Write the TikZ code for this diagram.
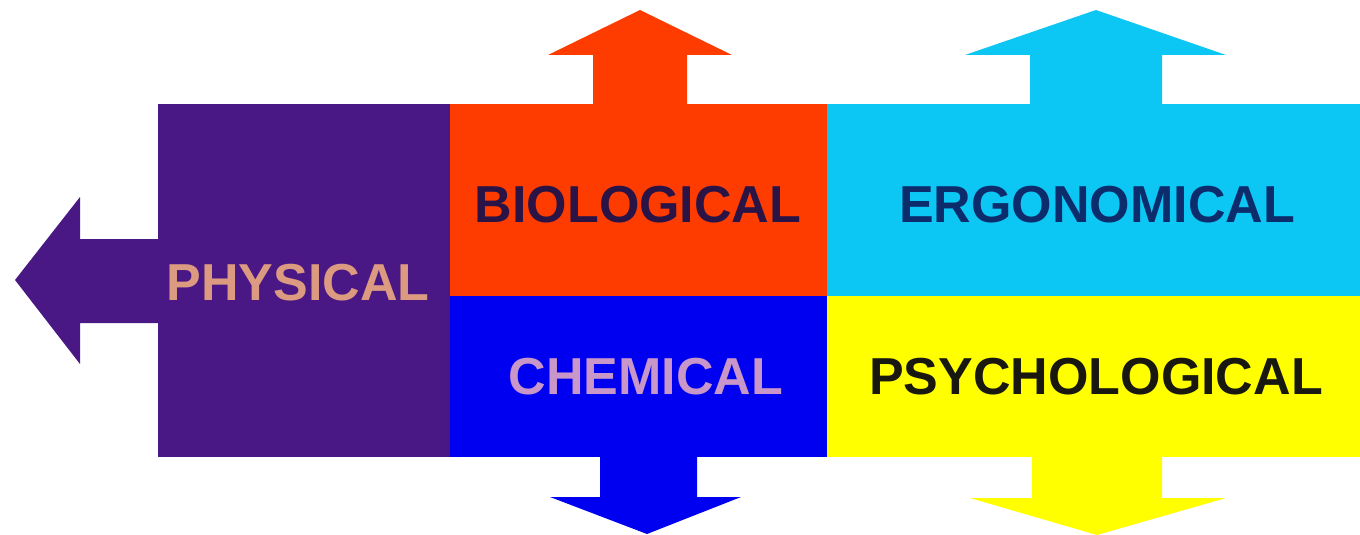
\documentclass[tikz,border=0pt]{standalone}
\usepackage{fontspec}
\setmainfont{Liberation Sans}

\definecolor{physpurple}{HTML}{4A1884}
\definecolor{bioorange}{HTML}{FF3C00}
\definecolor{ergocyan}{HTML}{0CC6F4}
\definecolor{chemblue}{HTML}{0000F0}
\definecolor{psyyellow}{HTML}{FFFF00}
\definecolor{phystext}{HTML}{DC9A80}
\definecolor{biotext}{HTML}{2A1446}
\definecolor{ergotext}{HTML}{0C2C6C}
\definecolor{chemtext}{HTML}{C896C8}
\definecolor{psytext}{HTML}{181810}

\tikzset{every picture/.style={line width=0.75pt}}
\tikzset{label text/.style={anchor=center,inner sep=0pt,font=\bfseries\fontsize{39}{39}\selectfont}}

\begin{document}
\begin{tikzpicture}[x=0.75pt,y=0.75pt,yscale=-1,xscale=1]
\useasboundingbox (0,0) rectangle (1360,535);

%Shape: Left Arrow [id:physarrow]
\fill [physpurple] (160,239) -- (80,239) -- (80,197) -- (15,280) -- (80,364) -- (80,323) -- (160,323) -- cycle ;
%Shape: Up Arrow [id:bioarrow]
\fill [bioorange] (593,106) -- (593,55) -- (548,55) -- (640,10) -- (732,55) -- (687,55) -- (687,106) -- cycle ;
%Shape: Up Arrow [id:ergoarrow]
\fill [ergocyan] (1030,106) -- (1030,55) -- (965,55) -- (1096,10) -- (1226,55) -- (1162,55) -- (1162,106) -- cycle ;
%Shape: Down Arrow [id:chemarrow]
\fill [chemblue] (600,455) -- (600,497) -- (550,497) -- (647,534) -- (741,497) -- (697,497) -- (697,455) -- cycle ;
%Shape: Down Arrow [id:psyarrow]
\fill [psyyellow] (1032,455) -- (1032,498) -- (970,498) -- (1097,535) -- (1226,498) -- (1162,498) -- (1162,455) -- cycle ;

%Shape: Rectangle [id:physbox]
\fill [physpurple] (158,104) rectangle (451,457) ;
%Shape: Rectangle [id:biobox]
\fill [bioorange] (450,104) rectangle (828,296) ;
%Shape: Rectangle [id:ergobox]
\fill [ergocyan] (827,104) rectangle (1360,296) ;
%Shape: Rectangle [id:chembox]
\fill [chemblue] (450,296) rectangle (828,457) ;
%Shape: Rectangle [id:psybox]
\fill [psyyellow] (827,296) rectangle (1360,457) ;

% Text Node
\node [label text, text=phystext] (physical) at (298,283) {PHYSICAL};
% Text Node
\node [label text, text=biotext] (biological) at (638,205) {BIOLOGICAL};
% Text Node
\node [label text, text=ergotext] (ergonomical) at (1097,205) {ERGONOMICAL};
% Text Node
\node [label text, text=chemtext] (chemical) at (646,377) {CHEMICAL};
% Text Node
\node [label text, text=psytext] (psychological) at (1096,377) {PSYCHOLOGICAL};

\end{tikzpicture}
\end{document}
